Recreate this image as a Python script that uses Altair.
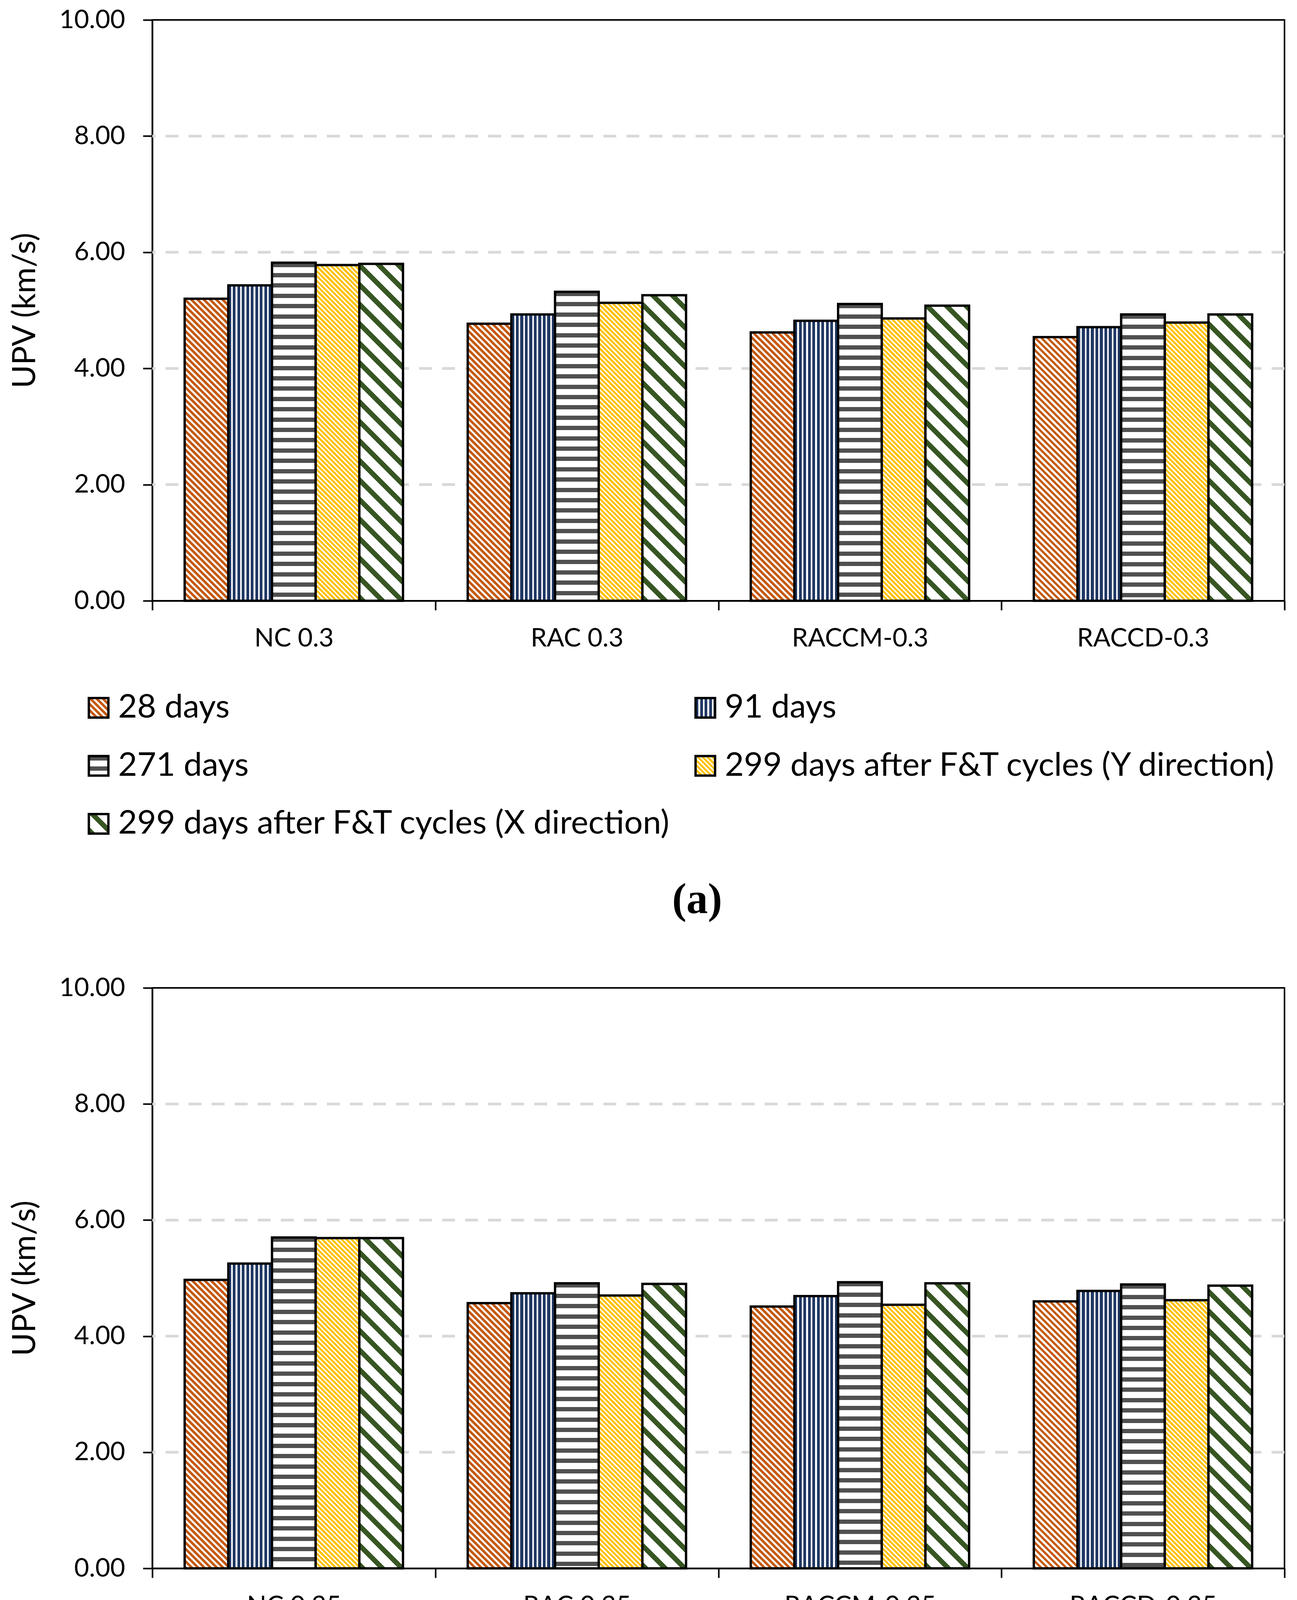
import altair as alt
import pandas as pd

# ---------------- data ----------------
CATS_A = ["NC 0.3", "RAC 0.3", "RACCM-0.3", "RACCD-0.3"]
CATS_B = ["NC 0.35", "RAC 0.35", "RACCM-0.35", "RACCD-0.35"]
SERIES = [
    "28 days",
    "91 days",
    "271 days",
    "299 days after F&T cycles (Y direction)",
    "299 days after F&T cycles (X direction)",
]

A_28 = [5.20, 4.77, 4.62, 4.54]
A_91 = [5.43, 4.93, 4.82, 4.71]
A_271 = [5.82, 5.32, 5.11, 4.93]
A_299Y = [5.78, 5.13, 4.86, 4.79]
A_299X = [5.80, 5.26, 5.08, 4.93]

B_28 = [4.97, 4.57, 4.51, 4.60]
B_91 = [5.25, 4.74, 4.69, 4.78]
B_271 = [5.70, 4.91, 4.93, 4.89]
B_299Y = [5.69, 4.70, 4.54, 4.62]
B_299X = [5.69, 4.90, 4.91, 4.87]

GRID_VALUES = [2, 4, 6, 8]
Y_TICKS = [0, 2, 4, 6, 8, 10]

# ---------------- style ----------------
COLORS = ["#C55A11", "#203864", "#505050", "#FFC000", "#375623"]
KINDS = ["d", "v", "h", "d", "d"]
PERIODS = [16.0, 11.5, 26.4, 12.4, 50.0]
FRACS = [0.55, 0.62, 0.42, 0.58, 0.36]

W = 2899
H_A = 1487
H_B = 1486
OFF_PAD = 0.741
BAR_W = (W / 4.0) / (5.0 + 2 * OFF_PAD)   # width of one bar in px
FONT = "Lato"


def stripes(kind, w, h, color, period, frac):
    if kind == "v":
        L = w
        x1, y1, x2, y2 = 0, 0, 1, 0
    elif kind == "h":
        L = h
        x1, y1, x2, y2 = 0, 0, 0, 1
    else:
        L = w + h
        k = (w + h) / (w * w + h * h)
        x1, y1, x2, y2 = 0, 1, k * w, 1 - k * h
    stops = []
    i = 0
    while True:
        a = i * period / L
        if a >= 1:
            break
        b = min(1.0, (i * period + frac * period) / L)
        c = min(1.0, (i + 1) * period / L)
        stops.append({"offset": round(a, 6), "color": color})
        stops.append({"offset": round(b, 6), "color": color})
        if b < 1:
            stops.append({"offset": round(b, 6), "color": "white"})
            stops.append({"offset": round(c, 6), "color": "white"})
        i += 1
    return {"gradient": "linear", "x1": x1, "y1": y1, "x2": round(x2, 6), "y2": round(y2, 6), "stops": stops}


def panel(cats, table, height):
    rows = []
    for j, s in enumerate(SERIES):
        for i, c in enumerate(cats):
            rows.append({"cat": c, "series": s, "value": table[j][i]})
    df = pd.DataFrame(rows)

    X = alt.X(
        "cat:N",
        sort=cats,
        scale=alt.Scale(domain=cats, paddingInner=0, paddingOuter=0),
        axis=alt.Axis(
            title=None, tickBand="extent", labelAngle=0, labelLimit=0,
            domainColor="black", domainWidth=4, tickColor="black", tickWidth=4,
            tickSize=24, labelFontSize=66, labelPadding=40, labelColor="black",
            labelFont=FONT,
        ),
    )
    XO = alt.XOffset(
        "series:N", sort=SERIES,
        scale=alt.Scale(domain=SERIES, paddingInner=0, paddingOuter=OFF_PAD),
    )
    Y = alt.Y(
        "value:Q",
        scale=alt.Scale(domain=[0, 10], nice=False),
        axis=alt.Axis(
            values=Y_TICKS, format=".2f", title="UPV (km/s)", grid=False,
            domainColor="black", domainWidth=4, tickColor="black", tickWidth=4,
            tickSize=24, labelFontSize=66, labelPadding=46, labelColor="black",
            labelFont=FONT, titleFont=FONT, titleFontSize=81,
            titleFontWeight="normal", titleColor="black", titlePadding=84,
        ),
    )

    grid = alt.Chart(pd.DataFrame({"value": GRID_VALUES})).mark_rule(
        color="#D9D9D9", strokeWidth=7, strokeDash=[33, 26]
    ).encode(y=Y)

    layers = [grid]
    base = alt.Chart(df)
    for j, s in enumerate(SERIES):
        for i, c in enumerate(cats):
            h = table[j][i] / 10.0 * height
            g = stripes(KINDS[j], BAR_W, h, COLORS[j], PERIODS[j], FRACS[j])
            layers.append(
                base.transform_filter((alt.datum.cat == c) & (alt.datum.series == s))
                .mark_bar(fill=g, stroke="black", strokeWidth=6)
                .encode(x=X, xOffset=XO, y=Y)
            )
    return alt.layer(*layers).properties(
        width=W, height=height,
        view=alt.ViewBackground(stroke="black", strokeWidth=4),
    )


def legend(height, xs, ys, cap_x, cap_y, caption):
    ldf = pd.DataFrame({"series": SERIES, "col": [0, 1, 0, 1, 0], "row": [0, 0, 1, 1, 2]})
    LX = alt.X("col:O", scale=alt.Scale(type="point", domain=[0, 1], range=xs, padding=0), axis=None)
    LY = alt.Y("row:O", scale=alt.Scale(type="point", domain=[0, 1, 2], range=ys, padding=0), axis=None)
    lbase = alt.Chart(ldf)
    SW = 50
    layers = []
    for j, s in enumerate(SERIES):
        g = stripes(KINDS[j], SW, SW, COLORS[j], PERIODS[j], FRACS[j])
        layers.append(
            lbase.transform_filter(alt.datum.series == s)
            .mark_square(size=SW * SW, fill=g, stroke="black", strokeWidth=6, opacity=1)
            .encode(x=LX, y=LY)
        )
    layers.append(
        lbase.mark_text(align="left", baseline="middle", dx=50, font=FONT, fontSize=84, color="black")
        .encode(x=LX, y=LY, text="series:N")
    )
    layers.append(
        alt.Chart(pd.DataFrame({"t": [caption]}))
        .mark_text(font="Liberation Serif", fontWeight="bold", fontSize=110, color="black",
                   align="center", baseline="middle")
        .encode(x=alt.value(cap_x), y=alt.value(cap_y), text="t:N")
    )
    return alt.layer(*layers).properties(
        width=W, height=height,
        view=alt.ViewBackground(stroke="transparent"),
    )


pa = panel(CATS_A, [A_28, A_91, A_271, A_299Y, A_299X], H_A)
la = legend(991, [-137.5, 1416], [274, 571], 1395, 766, "(a)")
pb = panel(CATS_B, [B_28, B_91, B_271, B_299Y, B_299X], H_B)
lb = legend(820, [-145, 1453], [270, 598], 1410, 762, "(b)")

chart = (
    alt.vconcat(pa, la, pb, lb, spacing=0, bounds="flush")
    .properties(padding={"left": 14, "top": 8, "right": 0, "bottom": 5})
    .configure(font=FONT)
)

chart.save("out.html", embed_options={"renderer": "svg", "actions": False})
